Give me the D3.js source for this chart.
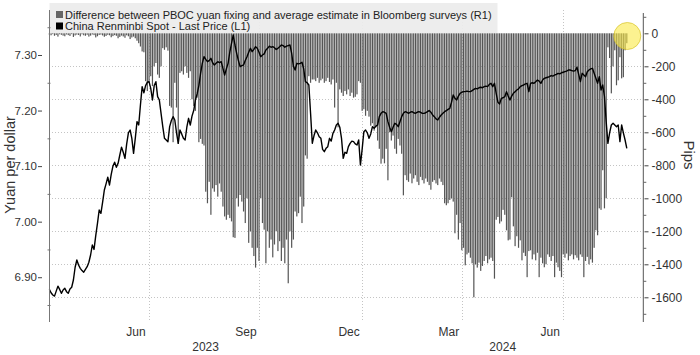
<!DOCTYPE html>
<html><head><meta charset="utf-8">
<script src="https://cdn.jsdelivr.net/npm/d3@7"></script>
<style>
body{margin:0;background:#fff}
svg{display:block}
text{font-family:"Liberation Sans",Arial,sans-serif;fill:#333}
</style>
</head><body>
<svg id="c" width="700" height="355"></svg>
<script>
// ---------- DATA ----------
const startDate = "2023-04-04";
const endDate = "2024-08-21";
// Chinese market holidays falling on weekdays (no fixing / no survey)
const holidays = ["2023-04-05","2023-05-01","2023-05-02","2023-05-03","2023-06-22","2023-06-23",
  "2023-09-29","2023-10-02","2023-10-03","2023-10-04","2023-10-05","2023-10-06",
  "2024-01-01","2024-02-09","2024-02-12","2024-02-13","2024-02-14","2024-02-15","2024-02-16",
  "2024-04-04","2024-04-05","2024-05-01","2024-05-02","2024-05-03","2024-06-10"];

// China Renminbi Spot - Last Price (L1), yuan per dollar, one per trading day
const spot = [
6.878,6.872,6.868,6.866,6.875,6.884,6.878,6.871,6.877,6.880,
6.874,6.871,6.879,6.882,6.895,6.918,6.931,6.922,6.916,6.912,
6.909,6.914,6.919,6.927,6.940,6.958,6.950,6.975,6.997,7.021,
7.015,7.035,7.057,7.068,7.080,7.066,7.085,7.100,7.107,7.098,
7.105,7.120,7.134,7.125,7.114,7.140,7.160,7.165,7.150,7.123,
7.150,7.180,7.174,7.210,7.243,7.232,7.245,7.251,7.252,7.240,
7.219,7.245,7.252,7.225,7.219,7.195,7.171,7.150,7.147,7.144,
7.171,7.182,7.189,7.183,7.160,7.141,7.165,7.158,7.150,7.147,
7.170,7.186,7.174,7.190,7.200,7.219,7.230,7.245,7.267,7.285,
7.297,7.292,7.288,7.290,7.294,7.286,7.282,7.285,7.288,7.286,
7.288,7.276,7.264,7.275,7.285,7.305,7.321,7.336,7.318,7.303,
7.290,7.279,7.281,7.282,7.290,7.297,7.305,7.312,7.306,7.310,
7.315,7.312,7.305,7.297,7.300,7.302,7.309,7.312,7.316,7.314,
7.315,7.313,7.310,7.312,7.315,7.318,7.317,7.314,7.316,7.317,
7.318,7.303,7.280,7.273,7.285,7.284,7.285,7.287,7.275,7.252,
7.250,7.246,7.195,7.141,7.155,7.165,7.160,7.153,7.150,7.130,
7.126,7.132,7.135,7.150,7.145,7.159,7.165,7.174,7.177,7.170,
7.150,7.114,7.125,7.123,7.135,7.141,7.145,7.144,7.140,7.138,
7.147,7.102,7.130,7.162,7.165,7.160,7.150,7.158,7.171,7.168,
7.172,7.174,7.189,7.195,7.198,7.197,7.195,7.180,7.170,7.162,
7.170,7.177,7.175,7.171,7.180,7.189,7.195,7.198,7.197,7.195,
7.197,7.198,7.196,7.195,7.197,7.198,7.197,7.195,7.195,7.196,
7.198,7.200,7.197,7.192,7.189,7.185,7.183,7.188,7.192,7.195,
7.198,7.200,7.202,7.204,7.215,7.228,7.222,7.219,7.226,7.231,
7.233,7.234,7.234,7.235,7.234,7.234,7.236,7.238,7.240,7.239,
7.241,7.242,7.241,7.243,7.244,7.243,7.247,7.249,7.243,7.249,
7.231,7.215,7.212,7.222,7.223,7.225,7.234,7.226,7.219,7.226,
7.231,7.234,7.237,7.239,7.243,7.245,7.246,7.248,7.249,7.234,
7.249,7.250,7.249,7.252,7.255,7.253,7.249,7.255,7.258,7.259,
7.260,7.261,7.263,7.262,7.264,7.265,7.267,7.266,7.268,7.269,
7.270,7.271,7.273,7.273,7.272,7.271,7.272,7.278,7.265,7.252,
7.267,7.264,7.261,7.270,7.273,7.275,7.276,7.267,7.258,7.249,
7.261,7.237,7.246,7.225,7.180,7.141,7.160,7.174,7.177,7.174,
7.171,7.174,7.144,7.174,7.160,7.147,7.132];

// Difference between PBOC yuan fixing and average estimate in Bloomberg surveys (R1), pips
const gap = [
-8,-12,-5,-15,-10,-20,-6,-9,-14,-18,
-7,-11,-16,-5,-22,-13,-8,-10,-19,-6,
-12,-15,-9,-20,-14,-7,-11,-25,-18,-10,
-8,-13,-21,-16,-9,-12,-24,-17,-11,-15,
-30,-22,-14,-19,-27,-12,-18,-35,-25,-20,
-30,-45,-60,-80,-110,-115,-290,-350,-300,-260,
-320,-200,-180,-250,-270,-200,-90,-100,-85,-105,
-440,-450,-660,-300,-450,-670,-240,-230,-250,-200,
-240,-270,-230,-400,-440,-470,-390,-660,-640,-670,
-680,-960,-1030,-900,-1100,-940,-960,-920,-990,-910,
-960,-1050,-1110,-1130,-1100,-1120,-1140,-1236,-1240,-1000,
-1050,-980,-1020,-1080,-1150,-1000,-1270,-1200,-1300,-1350,
-1420,-1300,-1380,-1000,-1150,-1190,-1394,-1200,-1300,-1250,
-1358,-1280,-1200,-1320,-1260,-1380,-1300,-1394,-1250,-1515,
-1200,-1300,-1250,-1080,-1110,-1090,-990,-1150,-1050,-740,
-760,-260,-300,-280,-280,-290,-270,-300,-285,-275,
-300,-290,-270,-295,-310,-280,-450,-300,-570,-340,
-360,-380,-350,-370,-340,-380,-360,-390,-385,-370,
-290,-300,-470,-460,-500,-470,-505,-560,-545,-590,
-570,-650,-700,-790,-760,-788,-700,-891,-600,-650,
-620,-700,-730,-640,-680,-730,-982,-860,-890,-900,
-850,-909,-880,-860,-900,-920,-870,-890,-910,-880,
-900,-920,-948,-900,-890,-910,-920,-880,-900,-920,
-1030,-1042,-1030,-1010,-1000,-1020,-1212,-1100,-1250,-1150,
-1315,-1300,-1406,-1340,-1330,-1360,-1394,-1600,-1400,-1420,
-1390,-1440,-1410,-1380,-1350,-1394,-1370,-1360,-1380,-1487,
-1130,-1113,-1153,-1140,-1070,-1100,-1194,-1255,-1250,-994,
-1170,-1290,-1230,-1300,-1255,-1376,-1330,-1350,-1478,-1320,
-1315,-1370,-1340,-1376,-1330,-1478,-1360,-1394,-1418,-1400,
-1340,-1355,-1380,-1350,-1478,-1390,-1418,-1440,-1478,-1340,
-1360,-1335,-1376,-1350,-1340,-1370,-1345,-1360,-1376,-1340,
-1355,-1478,-1380,-1355,-1400,-1370,-1390,-1300,-1194,-1224,
-1061,-1070,-830,-1061,-1000,-85,-150,-364,-200,-103,
-315,-285,-145,-273,-266,-103,-60];

const leftTicks = [6.90, 7.00, 7.10, 7.20, 7.30];
const leftMinor = [6.85, 6.95, 7.05, 7.15, 7.25, 7.35];
const rightTicks = [0, -200, -400, -600, -800, -1000, -1200, -1400, -1600];
const rightMinor = [100, -100, -300, -500, -700, -900, -1100, -1300, -1500, -1700];
const monthBreaks = ["2023-07-01", "2023-10-01", "2024-01-01", "2024-04-01", "2024-07-01"];
const monthLabels = ["Jun", "Sep", "Dec", "Mar", "Jun"];
const yearLabels = ["2023", "2024"];
const legendLabels = ["Difference between PBOC yuan fixing and average estimate in Bloomberg surveys (R1)",
                      "China Renminbi Spot - Last Price (L1)"];
const yLeftTitle = "Yuan per dollar";
const yRightTitle = "Pips";

// ---------- LAYOUT ----------
const L = 49, R = 643.3, T = 10, B = 322;
const svg = d3.select("#c");

const parse = d3.utcParse("%Y-%m-%d"), fmt = d3.utcFormat("%Y-%m-%d");
const hol = new Set(holidays);
const days = d3.utcDays(parse(startDate), d3.utcDay.offset(parse(endDate), 1))
  .filter(d => d.getUTCDay() % 6 !== 0 && !hol.has(fmt(d)));
const n = Math.min(days.length, spot.length, gap.length);

const x = d3.scaleLinear().domain([-0.2, 345.6]).range([L, R]);
const yL = d3.scaleLinear().domain([6.8194, 7.381]).range([B, T]);
const yR = d3.scaleLinear().domain([-1749.7, 141.2]).range([B, T]);

const idxOf = s => { const d = parse(s); return days.findIndex(e => e >= d); };
const breakIdx = monthBreaks.map(idxOf);

// gridlines
const grid = svg.append("g").attr("stroke", "#c4c4c4").attr("stroke-width", 1).attr("stroke-dasharray", "1,2");
grid.selectAll("line.h").data(rightTicks.slice(1)).join("line")
  .attr("x1", L).attr("x2", R).attr("y1", d => Math.round(yR(d)) + 0.5).attr("y2", d => Math.round(yR(d)) + 0.5);
grid.selectAll("line.v").data(breakIdx).join("line")
  .attr("x1", d => Math.round(x(d)) + 0.5).attr("x2", d => Math.round(x(d)) + 0.5).attr("y1", T).attr("y2", B);

// bars
const bw = 1.2;
svg.append("g").selectAll("rect").data(gap.slice(0, n)).join("rect")
  .attr("x", (d, i) => x(i) - bw / 2).attr("width", bw)
  .attr("y", d => Math.min(yR(0), yR(d)))
  .attr("height", d => Math.abs(yR(d) - yR(0)))
  .attr("fill", "#555555");

// legend box
svg.append("rect").attr("x", L + 0.5).attr("y", 3).attr("width", 448).attr("height", 30)
  .attr("fill", "#ececec").attr("opacity", 0.92);
const legColors = ["#666666", "#000000"];
legendLabels.forEach((t, i) => {
  svg.append("rect").attr("x", 56).attr("y", 11 + i * 11.5).attr("width", 7).attr("height", 7).attr("fill", legColors[i]);
  svg.append("text").attr("x", 65).attr("y", 18.5 + i * 11.5).attr("font-size", 11).style("fill", "#222").text(t);
});

// line
svg.append("path").datum(spot.slice(0, n))
  .attr("fill", "none").attr("stroke", "#000").attr("stroke-width", 1.4).attr("stroke-linejoin", "round")
  .attr("d", d3.line().x((d, i) => x(i)).y(d => yL(d)));

// axis lines
svg.append("line").attr("x1", L + 0.5).attr("x2", L + 0.5).attr("y1", T).attr("y2", B).attr("stroke", "#777");
svg.append("line").attr("x1", R).attr("x2", R).attr("y1", T + 3).attr("y2", B).attr("stroke", "#555");

// left axis
const gl = svg.append("g").attr("transform", "translate(42,0)")
  .call(d3.axisLeft(yL).tickValues(leftTicks).tickFormat(d3.format(".2f")).tickSize(4).tickPadding(1));
gl.select(".domain").remove();
gl.selectAll("line").attr("stroke", "#444");
gl.selectAll("text").attr("font-size", 11.5).attr("font-family", "Liberation Sans, Arial, sans-serif").style("fill", "#333");
const glm = svg.append("g").attr("transform", "translate(47.5,0)")
  .call(d3.axisRight(yL).tickValues(leftMinor).tickSize(3).tickFormat(""));
glm.select(".domain").remove();
glm.selectAll("line").attr("stroke", "#777");

// right axis
const gr = svg.append("g").attr("transform", "translate(644.5,0)")
  .call(d3.axisRight(yR).tickValues(rightTicks).tickFormat(d => String(d)).tickSize(4).tickPadding(3));
gr.select(".domain").remove();
gr.selectAll("line").attr("stroke", "#444");
gr.selectAll("text").attr("font-size", 12).attr("font-family", "Liberation Sans, Arial, sans-serif").style("fill", "#333");
const grm = svg.append("g").attr("transform", `translate(${R},0)`)
  .call(d3.axisRight(yR).tickValues(rightMinor).tickSize(3).tickFormat(""));
grm.select(".domain").remove();
grm.selectAll("line").attr("stroke", "#666");

// bottom labels
svg.append("g").selectAll("text").data(breakIdx).join("text")
  .attr("x", d => x(d) - 13).attr("y", 336).attr("text-anchor", "middle").attr("font-size", 12)
  .text((d, i) => monthLabels[i]);
const yBreak = x(idxOf("2024-01-01"));
const yearCenters = [(L + yBreak) / 2, (yBreak + R) / 2];
svg.append("g").selectAll("text").data(yearLabels).join("text")
  .attr("x", (d, i) => yearCenters[i]).attr("y", 351).attr("text-anchor", "middle").attr("font-size", 12)
  .text(d => d);

// axis titles
svg.append("text").attr("transform", "translate(15,165) rotate(-90)").attr("text-anchor", "middle")
  .attr("font-size", 14.5).text(yLeftTitle);
svg.append("text").attr("transform", "translate(684,155) rotate(90)").attr("text-anchor", "middle")
  .attr("font-size", 15).text(yRightTitle);

// highlight circle on the latest readings
svg.append("circle").attr("cx", x(n - 1) + 0.5).attr("cy", 36).attr("r", 13.5)
  .attr("fill", "rgba(250,234,70,0.6)").attr("stroke", "rgba(215,195,40,0.7)").attr("stroke-width", 1);
</script>
</body></html>
